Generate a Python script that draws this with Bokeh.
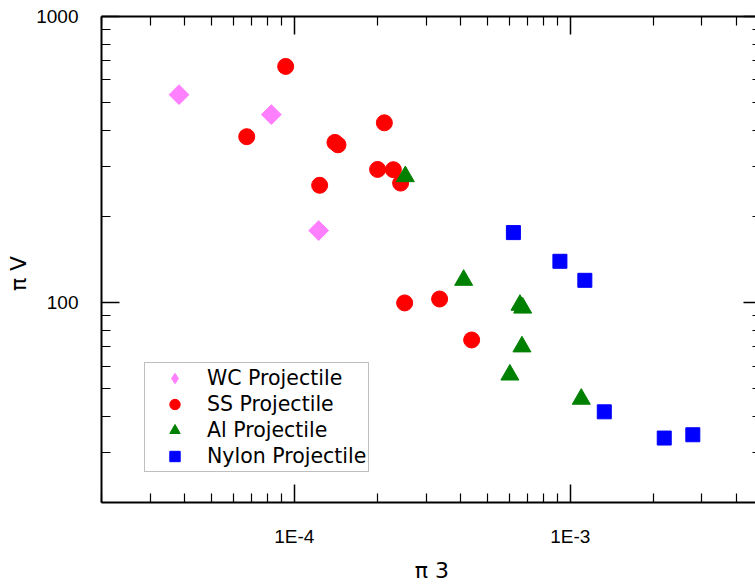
import numpy as np
from bokeh.plotting import figure
from bokeh.models import (LogAxis, FixedTicker, Legend, LegendItem, Range1d,
                          CustomJSTickFormatter)
from bokeh.embed import file_html
from bokeh.resources import INLINE

# ---- data ----
wc_x = [3.82e-5, 8.25e-5, 1.225e-4]
wc_y = [533, 454, 178.5]

ss_x = [9.30e-5, 6.72e-5, 1.403e-4, 1.439e-4, 2.119e-4, 2.003e-4,
        2.284e-4, 2.427e-4, 1.235e-4, 2.51e-4, 3.36e-4, 4.39e-4]
ss_y = [669, 380, 363, 356, 425, 292, 291.4, 261.6, 257, 99.7, 102.9, 74.0]

al_x = [2.524e-4, 4.107e-4, 6.57e-4, 6.72e-4, 6.68e-4, 6.04e-4, 1.096e-3]
al_y = [275.9, 119.8, 98.0, 95.8, 70.1, 55.9, 46.0]

ny_x = [6.22e-4, 9.17e-4, 1.129e-3, 1.328e-3, 2.19e-3, 2.78e-3]
ny_y = [175.6, 139.4, 119.6, 41.5, 33.6, 34.5]

series_names = ["WC Projectile", "SS Projectile", "Al Projectile", "Nylon Projectile"]

x_major = [1e-4, 1e-3]
x_major_labels = ["1E-4", "1E-3"]
x_minor = [2e-5, 3e-5, 4e-5, 5e-5, 6e-5, 7e-5, 8e-5, 9e-5,
           2e-4, 3e-4, 4e-4, 5e-4, 6e-4, 7e-4, 8e-4, 9e-4,
           2e-3, 3e-3, 4e-3]
y_major = [100, 1000]
y_major_labels = ["100", "1000"]
y_minor = [20, 30, 40, 50, 60, 70, 80, 90,
           200, 300, 400, 500, 600, 700, 800, 900]

x_label = "\u00a0\u03c0 3"
y_label = "\u03c0 V" + "\u00a0" * 4

TICK_FONT = "Liberation Sans"
LEG_FONT = "DejaVu Sans"
LAB_FONT = "DejaVu Sans"

FMT_CODE = """
let out = "";
for (let i = 0; i < majors.length; i++) {
  if (Math.abs(majors[i] - tick) <= 1e-6 * Math.abs(majors[i])) { out = names[i]; }
}
return out;
"""

p = figure(x_axis_type="log", y_axis_type="log",
           x_range=Range1d(2e-5, 4.69e-3), y_range=Range1d(20, 1000),
           frame_width=654, frame_height=486,
           min_border_left=101, min_border_top=16, min_border_right=0,
           min_border_bottom=82,
           output_backend="svg", toolbar_location=None)
p.outline_line_color = None
p.grid.visible = False
p.background_fill_color = "white"
p.border_fill_color = "white"


def style_axis(ax, major, minor, labels):
    ax.ticker = FixedTicker(ticks=major, minor_ticks=minor)
    ax.axis_line_width = 2
    ax.axis_line_color = "black"
    ax.major_tick_in = 18
    ax.major_tick_out = 0
    ax.minor_tick_in = 9
    ax.minor_tick_out = 0
    ax.major_tick_line_width = 1.5
    ax.minor_tick_line_width = 1.2
    ax.major_tick_line_color = "black"
    ax.minor_tick_line_color = "black"
    if labels is not None:
        ax.formatter = CustomJSTickFormatter(args=dict(majors=major, names=labels),
                                             code=FMT_CODE)
        ax.major_label_text_font = TICK_FONT
        ax.major_label_text_font_size = "19px"
        ax.major_label_text_color = "black"
        ax.major_label_standoff = 23
    else:
        ax.formatter = CustomJSTickFormatter(code="return '';")
        ax.major_label_text_font_size = "1px"
        ax.major_label_standoff = 0


style_axis(p.xaxis[0], x_major, x_minor, x_major_labels)
style_axis(p.yaxis[0], y_major, y_minor, y_major_labels)
p.xaxis[0].axis_label = x_label
p.yaxis[0].axis_label = y_label
for ax in (p.xaxis[0], p.yaxis[0]):
    ax.axis_label_text_font = LAB_FONT
    ax.axis_label_text_font_size = "22px"
    ax.axis_label_text_font_style = "normal"
    ax.axis_label_text_color = "black"
p.xaxis[0].axis_label_standoff = 8
p.yaxis[0].axis_label_standoff = 2

top = LogAxis()
style_axis(top, x_major, x_minor, None)
p.add_layout(top, "above")

right = LogAxis()
style_axis(right, y_major, y_minor, None)
right.axis_line_color = None
right.major_tick_in = 12
right.minor_tick_in = 3
p.add_layout(right, "right")

# legend glyph for WC (hidden beneath the rotated squares drawn next)
r_wc_leg = p.scatter(wc_x, wc_y, marker="diamond", size=18,
                     fill_color="#FF80FF", line_color="#FF80FF")
r_wc = p.scatter(wc_x, wc_y, marker="square", angle=np.pi / 4, size=14,
                 fill_color="#FF80FF", line_color="#FF80FF")
r_ss = p.scatter(ss_x, ss_y, marker="circle", size=16,
                 fill_color="#FF0000", line_color="#FF0000")
r_al = p.scatter(al_x, al_y, marker="triangle", size=18,
                 fill_color="#008000", line_color="#008000")
r_ny = p.scatter(ny_x, ny_y, marker="square", size=14,
                 fill_color="#0000FF", line_color="#0000FF")

legend = Legend(items=[LegendItem(label=n, renderers=[r])
                       for n, r in zip(series_names, [r_wc_leg, r_ss, r_al, r_ny])],
                location=(43, 30))
legend.border_line_color = "#808080"
legend.border_line_width = 1
legend.background_fill_color = "white"
legend.background_fill_alpha = 1
legend.padding = 2
legend.margin = 0
legend.spacing = 0
legend.glyph_width = 55
legend.glyph_height = 26
legend.label_height = 24
legend.label_standoff = 5
legend.label_text_font = LEG_FONT
legend.label_text_font_size = "20.5px"
legend.label_text_color = "black"
p.add_layout(legend)

open("out.html", "w").write(file_html(p, INLINE))
